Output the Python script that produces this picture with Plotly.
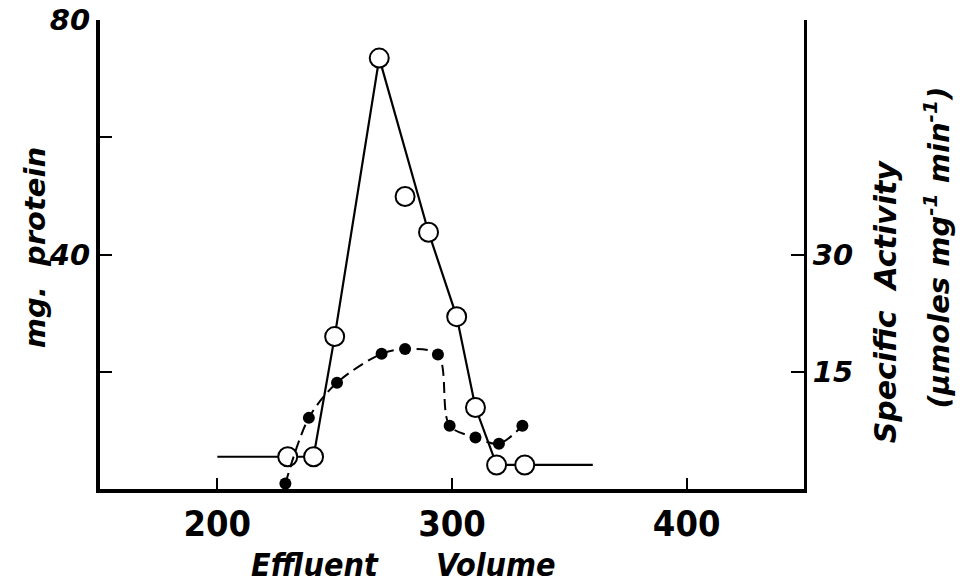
import plotly.graph_objects as go

# open circles: mg. protein (left axis)
protein_x = [230, 241, 250, 269, 280, 290, 302, 310, 319, 331]
protein_y = [5.5, 5.5, 26.0, 73.5, 49.9, 43.8, 29.4, 13.9, 4.1, 4.1]

# hand-drawn solid curve through the protein points (baseline runs 200 -> 360)
protein_line_x = [200, 230, 241, 250, 269, 290, 302, 310, 319, 331, 360]
protein_line_y = [5.5, 5.5, 5.5, 26.0, 73.5, 43.8, 29.4, 13.9, 4.1, 4.1, 4.1]

# filled dots: specific activity (right axis)
activity_x = [229, 239, 251, 270, 280, 294, 299, 310, 320, 330]
activity_y = [0.7, 9.1, 13.6, 17.3, 17.9, 17.2, 8.1, 6.6, 5.8, 8.1]

x_ticks = [200, 300, 400]
left_ticks = [20, 40, 60, 80]
left_labels = ["", "40", "", "80"]
right_ticks = [15, 30]
right_labels = ["15", "30"]

ital = dict(family="DejaVu Sans", size=28, color="black", style="italic", weight="bold")
narrow = dict(family="Liberation Sans Narrow, DejaVu Sans Condensed, Liberation Sans",
              size=36, color="black", weight="bold")

fig = go.Figure()

# dashed activity curve, then dots on top
fig.add_trace(go.Scatter(
    x=activity_x, y=activity_y, yaxis="y2", mode="lines",
    line=dict(color="black", width=2, dash="11px,6px", shape="spline", smoothing=0.9),
    hoverinfo="skip"))
fig.add_trace(go.Scatter(
    x=protein_line_x, y=protein_line_y, mode="lines",
    line=dict(color="black", width=2.2), hoverinfo="skip"))
fig.add_trace(go.Scatter(
    x=activity_x, y=activity_y, yaxis="y2", mode="markers",
    marker=dict(size=12, color="black"), name="Specific activity"))
fig.add_trace(go.Scatter(
    x=protein_x, y=protein_y, mode="markers",
    marker=dict(size=19, color="white", line=dict(color="black", width=2)),
    name="mg. protein"))

fig.update_layout(
    width=963, height=583,
    margin=dict(l=100, r=159, t=20, b=94, autoexpand=False),
    paper_bgcolor="white", plot_bgcolor="white",
    showlegend=False,
    xaxis=dict(range=[150, 450], tickvals=x_ticks, ticks="inside", ticklen=11,
               tickwidth=2, tickcolor="black", showline=True, linewidth=4,
               linecolor="black", showgrid=False, zeroline=False, tickfont=narrow,
               automargin=False),
    yaxis=dict(range=[0, 80], tickvals=left_ticks, ticktext=left_labels,
               ticks="inside", ticklen=12, tickwidth=2, tickcolor="black",
               showline=True, linewidth=4, linecolor="black", showgrid=False,
               zeroline=False, tickfont=dict(ital, size=29), automargin=False),
    yaxis2=dict(range=[0, 60], overlaying="y", side="right", tickvals=right_ticks,
                ticktext=right_labels, ticks="inside", ticklen=13, tickwidth=2,
                tickcolor="black", showline=True, linewidth=3, linecolor="black",
                showgrid=False, zeroline=False, tickfont=dict(ital, size=29),
                automargin=False),
)

ann = dict(xref="paper", yref="paper", showarrow=False, xanchor="center", yanchor="middle")
fig.add_annotation(text="mg.  protein", x=-0.092, y=0.514, textangle=-90,
                   font=dict(ital, size=29), **ann)
fig.add_annotation(text="Specific  Activity", x=1.115, y=0.40, textangle=-90,
                   font=dict(ital, size=30), **ann)
fig.add_annotation(text="(µmoles mg<sup>-1</sup> min<sup>-1</sup>)", x=1.189, y=0.515,
                   textangle=-90, font=dict(ital, size=29), **ann)
# x-axis title is set as two words with a wide gap
xtitle_font = dict(narrow, size=32, style="italic")
fig.add_annotation(text="Effluent", x=0.305, y=-0.162, font=xtitle_font, **ann)
fig.add_annotation(text="Volume", x=0.563, y=-0.162, font=xtitle_font, **ann)

# drop the default 8px page margin so the figure fills the window exactly
fig.write_html("out.html", config={"displayModeBar": False},
               post_script="document.body.style.margin='0px';")
